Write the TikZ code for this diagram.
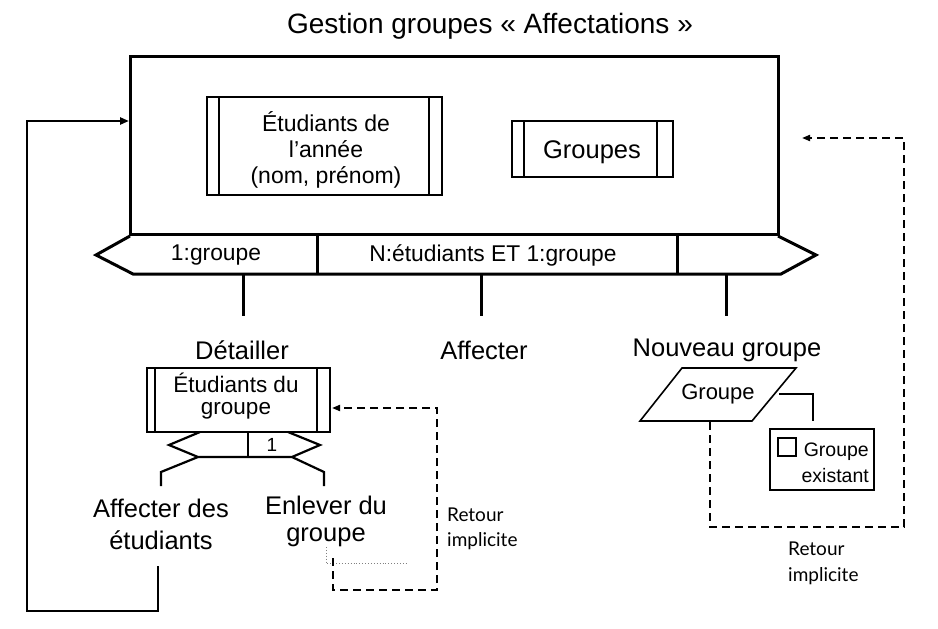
\documentclass[tikz,border=0pt]{standalone}
\usepackage{fontspec}
\setmainfont{Liberation Sans}
\newfontfamily\gillfont{Lato}
\usetikzlibrary{arrows.meta,shapes.geometric}
\begin{document}
\begin{tikzpicture}[x=1pt,y=-1pt,
  lbl/.style={inner sep=0pt,font=\fontsize{25.5}{30}\selectfont},
  boxtxt/.style={inner sep=0pt,font=\fontsize{23}{28}\selectfont},
  bandtxt/.style={inner sep=0pt,font=\fontsize{22.8}{26}\selectfont},
  retour/.style={inner sep=0pt,anchor=west,font=\gillfont\fontsize{19}{23}\selectfont},
  heavy/.style={line width=3pt,line join=miter},
  medium/.style={line width=2.2pt,line join=miter},
  thin/.style={line width=1.6pt},
  dashret/.style={line width=1.9pt,dash pattern=on 8pt off 5pt,-{Triangle[length=8pt,width=6pt]}},
  solidret/.style={line width=2.8pt,-{Triangle[length=9pt,width=7pt]}},
  framebox/.style={draw,inner sep=0pt}
]
\useasboundingbox (0,0) rectangle (938,629);
\fill[white] (0,0) rectangle (938,629);

% title
\node[inner sep=0pt,font=\fontsize{28}{32}\selectfont] (title) at (490,26) {Gestion groupes « Affectations »};

% main frame
\node[framebox,heavy,minimum width=648pt,minimum height=178pt] (main) at (454,145) {};

% Etudiants de l'annee
\node[framebox,thin,minimum width=235pt,minimum height=98pt] (etu) at (324.5,146) {};
\draw[thin] (219,97) -- (219,195) (429,97) -- (429,195);
\node[boxtxt] (etu1) at (326,122) {Étudiants de};
\node[boxtxt] (etu2) at (326,149) {l’année};
\node[boxtxt] (etu3) at (326,177) {(nom, prénom)};

% Groupes
\node[framebox,thin,minimum width=161pt,minimum height=56pt] (grps) at (592.5,149) {};
\draw[thin] (524,121) -- (524,177) (657,121) -- (657,177);
\node[inner sep=0pt,font=\fontsize{25.5}{30}\selectfont] (grpstxt) at (592,152) {Groupes};

% band below main
\draw[heavy] (130,236) -- (96,255) -- (133,274) -- (781,274) -- (816,255) -- (778,236);
\draw[heavy] (317,236) -- (317,274) (677,236) -- (677,274);
\node[bandtxt] (b1) at (216,255) {1:groupe};
\node[bandtxt] (b2) at (493,255) {N:étudiants ET 1:groupe};

% ticks
\coordinate (t1a) at (243,274); \coordinate (t1b) at (243,316);
\coordinate (t2a) at (481,274); \coordinate (t2b) at (481,316);
\coordinate (t3a) at (726,274); \coordinate (t3b) at (726,316);
\draw[heavy] (t1a) -- (t1b) (t2a) -- (t2b) (t3a) -- (t3b);

% labels
\node[lbl] (detailler) at (242,350) {Détailler};
\node[lbl] (affecter) at (484,350) {Affecter};
\node[lbl] (nouveau) at (727,350) {Nouveau groupe};

% Etudiants du groupe
\node[framebox,medium,minimum width=183pt,minimum height=64pt] (edg) at (238.5,400) {};
\draw[thin] (155,368) -- (155,432) (317,368) -- (317,432);
\node[boxtxt,font=\fontsize{22.5}{27}\selectfont] (edg1) at (236,383) {Étudiants du};
\node[boxtxt,font=\fontsize{22.5}{27}\selectfont] (edg2) at (236,411) {groupe};

% small band
\draw[medium] (200,432) -- (169,445) -- (198,457) -- (292,457) -- (320,445) -- (288,432);
\draw[medium] (248,432) -- (248,457);
\node[inner sep=0pt,font=\fontsize{19}{21}\selectfont] (one) at (272,445) {1};

% branches
\coordinate (bl0) at (198,457); \coordinate (bl1) at (161,472); \coordinate (bl2) at (161,486);
\coordinate (br0) at (292,457); \coordinate (br1) at (324,472); \coordinate (br2) at (324,486);
\draw[medium] (bl0) -- (bl1) -- (bl2);
\draw[medium] (br0) -- (br1) -- (br2);

\node[lbl] (aff1) at (161,508) {Affecter des};
\node[lbl] (aff2) at (161,540) {étudiants};
\node[lbl] (enl1) at (326,505) {Enlever du};
\node[lbl] (enl2) at (326,537) {groupe};

% feedback loop to main
\coordinate (fb0) at (158,566);
\coordinate (fb1) at (158,611);
\coordinate (fb2) at (27,611);
\coordinate (fb3) at (27,121);
\coordinate (mainin) at (129,121);
\draw[solidret] (fb0) -- (fb1) -- (fb2) -- (fb3) -- (mainin);

% dotted gray marks
\coordinate (dt0) at (326,547); \coordinate (dt1) at (326,563); \coordinate (dt2) at (406,563);
\draw[gray,dotted,line width=0.9pt] (dt0) -- (dt1) -- (dt2);

% implicit return 1
\coordinate (r0) at (333,558);
\coordinate (r1) at (333,590);
\coordinate (r2) at (437,590);
\coordinate (r3) at (437,408);
\coordinate (edgin) at (332,408);
\draw[dashret] (r0) -- (r1) -- (r2) -- (r3) -- (edgin);
\node[retour] (ret1a) at (447,515) {Retour};
\node[retour] (ret1b) at (447,541) {implicite};

% Nouveau groupe: parallelogram
\draw[thin,line join=miter] (682,368) -- (796,368) -- (752,421) -- (640,421) -- cycle;
\node[inner sep=0pt,font=\fontsize{22}{26}\selectfont] (grp) at (718,394) {Groupe};
\coordinate (c0) at (779,394); \coordinate (c1) at (813,394); \coordinate (c2) at (813,421);
\draw[thin] (c0) -- (c1) -- (c2);

% Groupe existant
\node[framebox,medium,minimum width=104pt,minimum height=61pt] (exist) at (822,459.5) {};
\node[draw,thin,minimum width=18pt,minimum height=18pt,inner sep=0pt] (chk) at (787,447) {};
\node[inner sep=0pt,anchor=east,font=\fontsize{19.5}{23}\selectfont] (ex1) at (869,452) {Groupe};
\node[inner sep=0pt,anchor=east,font=\fontsize{19.5}{23}\selectfont] (ex2) at (869,476) {existant};

% implicit return 2
\coordinate (s0) at (710,422);
\coordinate (s1) at (710,527);
\coordinate (s2) at (904,527);
\coordinate (s3) at (904,138);
\coordinate (s4) at (802,138);
\draw[dashret] (s0) -- (s1) -- (s2) -- (s3) -- (s4);
\node[retour] (ret2a) at (788,549) {Retour};
\node[retour] (ret2b) at (788,576) {implicite};
\end{tikzpicture}
\end{document}
